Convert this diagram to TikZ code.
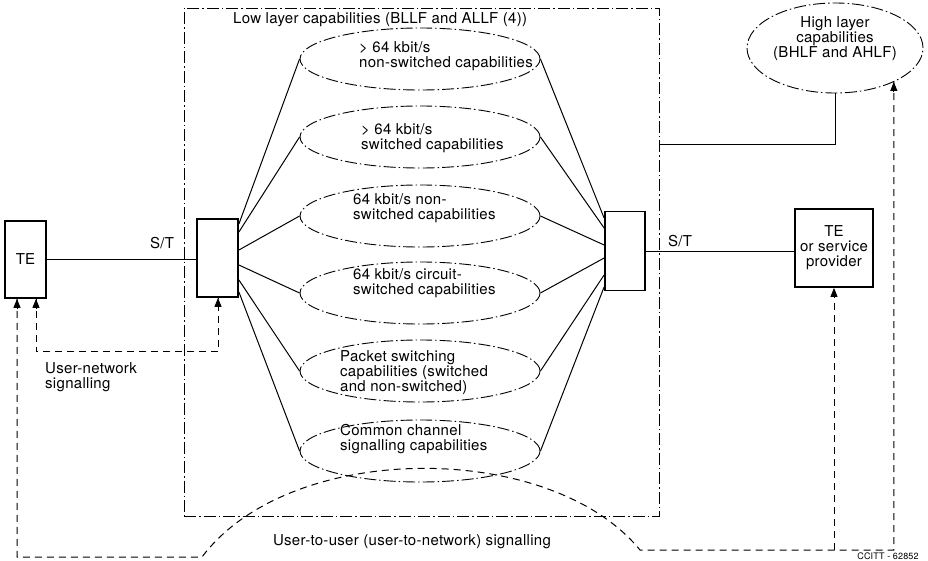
\documentclass[tikz,border=0pt]{standalone}
\usepackage{fontspec}
\setmainfont{TeX Gyre Heros}[LetterSpace=2]
\usetikzlibrary{shapes.geometric,arrows.meta,calc}
\begin{document}
\begin{tikzpicture}[x=1pt,y=-1pt,
  font=\fontsize{15}{15}\selectfont,
  dd/.style={dash pattern=on 12pt off 3pt on 1.5pt off 3pt, line width=0.9pt},
  dsh/.style={dash pattern=on 7pt off 5pt, line width=1pt},
  tip/.tip={Triangle[length=9pt,width=7pt]},
  head/.style={solid, line width=1pt, -tip},
  thickbox/.style={draw, line width=1.8pt, inner sep=0pt},
  capell/.style={draw, dd, ellipse, minimum width=240pt, minimum height=62pt, inner sep=0pt},
  captext/.style={anchor=west, align=left, inner sep=0pt},
  plain/.style={inner sep=0pt},
  conn/.style={line width=1pt}]
\useasboundingbox (0,0) rectangle (928,561);

% outer low-layer area
\node[draw, dd, minimum width=475pt, minimum height=508pt, inner sep=0pt] (llf) at (421.5,262) {};
\node[plain, anchor=west] (title) at (233,20) {Low layer capabilities (BLLF and ALLF (4))};

% boxes
\node[thickbox, minimum width=41pt, minimum height=77pt] (teL) at (25.5,259.5) {TE};
\node[thickbox, minimum width=41pt, minimum height=78pt] (muxL) at (217.5,258) {};
\node[thickbox, minimum width=40pt, minimum height=79pt] (muxR) at (625,251) {};
\node[thickbox, minimum width=78pt, minimum height=78pt, align=center] (teR) at (834,248) {TE\\or service\\provider};

% high layer
\node[draw, dd, ellipse, minimum width=176pt, minimum height=90pt, inner sep=0pt] (hl) at (835,48) {};
\node[plain, align=center] (hlt) at (835,39) {High layer\\capabilities\\(BHLF and AHLF)};

% capability ellipses
\node[capell] (c1) at (420,59) {};
\node[capell] (c2) at (420,137) {};
\node[capell] (c3) at (420,216) {};
\node[capell] (c4) at (420,293) {};
\node[capell] (c5) at (420,371) {};
\node[capell] (c6) at (420,451) {};
\node[captext] (t1) at (359,56.5) {> 64 kbit/s\\non-switched capabilities};
\node[captext] (t2) at (361,138.5) {> 64 kbit/s\\switched capabilities};
\node[captext] (t3) at (353,208.5) {64 kbit/s non-\\switched capabilities};
\node[captext] (t4) at (353,283.5) {64 kbit/s circuit-\\switched capabilities};
\node[captext] (t5) at (340,373) {Packet switching\\capabilities (switched\\and non-switched)};
\node[captext] (t6) at (340,439) {Common channel\\signalling capabilities};

% solid connections
\draw[conn] (teL.east) -- (teL.east -| muxL.west);
\draw[conn] (muxR.east) -- (muxR.east -| teR.west);
\node[plain] (st1) at (162,243) {S/T};
\node[plain] (st2) at (680,241) {S/T};

\draw[conn] ([yshift=34pt]muxL.east) -- (c1.west);
\draw[conn] ([yshift=26pt]muxL.east) -- (c2.west);
\draw[conn] ([yshift=8pt]muxL.east) -- (c3.west);
\draw[conn] ([yshift=-7pt]muxL.east) -- (c4.west);
\draw[conn] ([yshift=-22pt]muxL.east) -- (c5.west);
\draw[conn] ([yshift=-34pt]muxL.east) -- (c6.west);

\draw[conn] (c1.east) -- ([yshift=33pt]muxR.west);
\draw[conn] (c2.east) -- ([yshift=23pt]muxR.west);
\draw[conn] (c3.east) -- ([yshift=6pt]muxR.west);
\draw[conn] (c4.east) -- ([yshift=-7pt]muxR.west);
\draw[conn] (c5.east) -- ([yshift=-24pt]muxR.west);
\draw[conn] (c6.east) -- ([yshift=-36pt]muxR.west);

% low layer to high layer
\path (llf.east) ++(0,-117) coordinate (jn);
\draw[conn] (jn) -| (hl.south);

% user-network signalling
\coordinate (a1) at ([xshift=10.5pt]teL.south);
\coordinate (a2) at ([xshift=0.5pt]muxL.south);
\draw[dsh] (a1) -- ++(0,53) -| (a2);
\draw[head] ([yshift=-10pt]a1) -- (a1);
\draw[head] ([yshift=-10pt]a2) -- (a2);
\node[plain, anchor=west, align=left] (unl) at (45,377) {User-network\\signalling};

% user-to-user signalling
\coordinate (a3) at ([xshift=-8.5pt]teL.south);
\coordinate (a4) at (hl.-30);
\coordinate (arcL) at (202,557);
\coordinate (arcR) at (640,550);
\draw[dsh] (a3) |- (arcL)
   .. controls (290,440) and (550,440) .. (arcR) -| (a4);
\draw[dsh] (teR.south |- arcR) -- (teR.south);
\draw[head] ([yshift=-10pt]a3) -- (a3);
\draw[head] ([yshift=-10pt]a4) -- (a4);
\draw[head] ([yshift=-10pt]teR.south) -- (teR.south);
\node[plain] (uul) at (412,542) {User-to-user (user-to-network) signalling};

\node[plain, font=\fontsize{9}{10}\selectfont] (ccitt) at (888,556) {CCITT - 62852};
\end{tikzpicture}
\end{document}
